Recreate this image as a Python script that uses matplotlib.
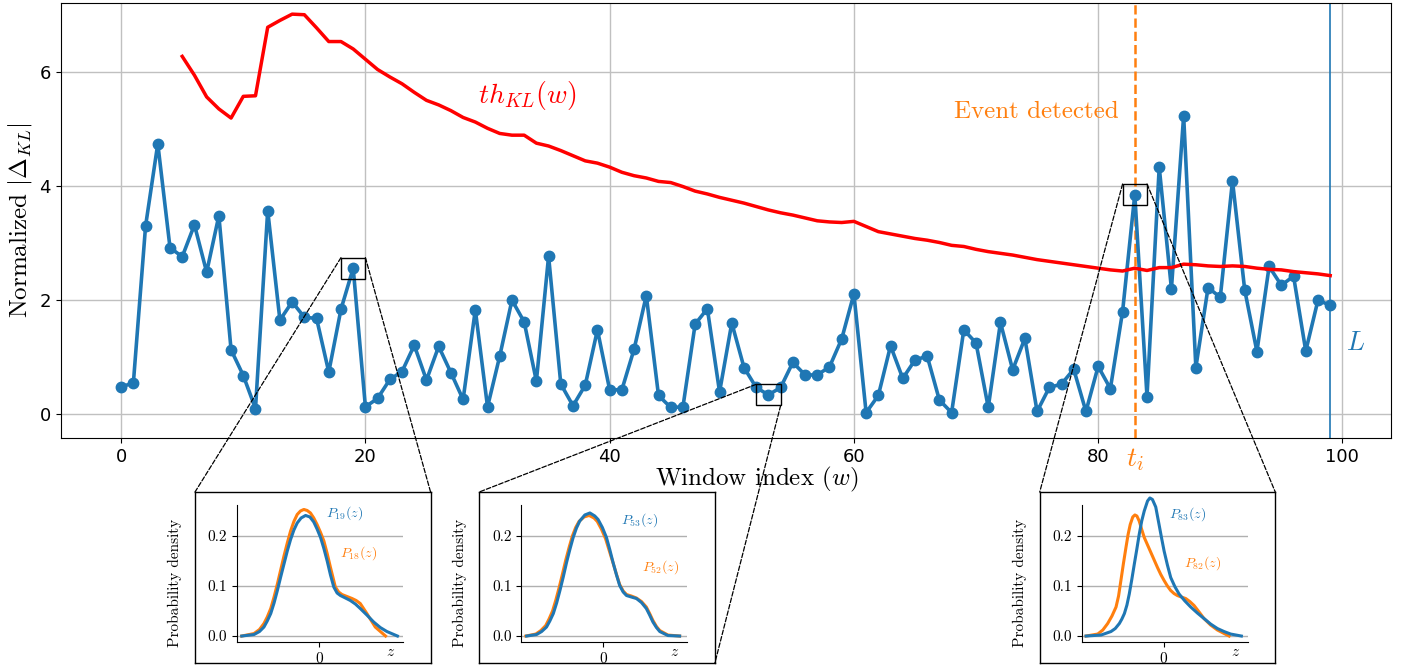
import numpy as np
import matplotlib
matplotlib.use("Agg")
import matplotlib.pyplot as plt
from matplotlib.patches import Rectangle, ConnectionPatch

plt.rcParams['mathtext.fontset'] = 'cm'
plt.rcParams['axes.unicode_minus'] = False

# ------------------------------
# DATA
# ------------------------------
windows = list(range(100))
kl_norm = [0.48, 0.55, 3.30, 4.74, 2.92, 2.76, 3.32, 2.49, 3.48, 1.13,
           0.68, 0.10, 3.57, 1.65, 1.97, 1.70, 1.68, 0.74, 1.84, 2.56,
           0.13, 0.28, 0.61, 0.75, 1.21, 0.60, 1.19, 0.73, 0.26, 1.83,
           0.13, 1.02, 2.00, 1.62, 0.58, 2.77, 0.53, 0.15, 0.51, 1.48,
           0.43, 0.43, 1.14, 2.08, 0.33, 0.12, 0.13, 1.58, 1.85, 0.39,
           1.60, 0.82, 0.47, 0.34, 0.47, 0.91, 0.69, 0.69, 0.83, 1.32,
           2.11, 0.03, 0.33, 1.20, 0.63, 0.95, 1.02, 0.25, 0.03, 1.48,
           1.25, 0.12, 1.61, 0.78, 1.33, 0.05, 0.47, 0.53, 0.79, 0.05,
           0.84, 0.45, 1.80, 3.85, 0.31, 4.33, 2.20, 5.23, 0.82, 2.22,
           2.05, 4.09, 2.18, 1.10, 2.59, 2.26, 2.42, 1.11, 2.00, 1.91]

th_windows = list(range(5, 100))
th_kl = [6.27, 5.94, 5.56, 5.35, 5.19,
         5.57, 5.58, 6.78, 6.90, 7.01, 7.00, 6.77, 6.53, 6.53, 6.40,
         6.22, 6.04, 5.91, 5.79, 5.64, 5.50, 5.42, 5.32, 5.20, 5.12,
         5.01, 4.92, 4.89, 4.89, 4.75, 4.70, 4.62, 4.53, 4.44, 4.40,
         4.33, 4.24, 4.18, 4.14, 4.08, 4.06, 3.99, 3.91, 3.86, 3.80,
         3.75, 3.70, 3.64, 3.58, 3.53, 3.49, 3.44, 3.39, 3.37, 3.36,
         3.38, 3.29, 3.20, 3.16, 3.12, 3.08, 3.05, 3.01, 2.96, 2.94,
         2.89, 2.85, 2.82, 2.79, 2.75, 2.71, 2.68, 2.65, 2.62, 2.59,
         2.56, 2.53, 2.51, 2.56, 2.52, 2.57, 2.57, 2.63, 2.62, 2.60,
         2.59, 2.60, 2.59, 2.56, 2.54, 2.53, 2.50, 2.48, 2.46, 2.43]

t_event = 83
L_end = 99
zoom_windows = [19, 53, 83]

# densities shown in the insets (z, p)
z19 = [-3.96, -3.33, -3.05, -2.82, -2.65, -2.47, -2.30, -2.13, -1.96, -1.79,
       -1.62, -1.45, -1.28, -1.11, -0.91, -0.68, -0.46, -0.26, -0.09, 0.09,
       0.26, 0.43, 0.60, 0.77, 0.94, 1.11, 1.37, 1.62, 1.88, 2.13, 2.47,
       2.82, 3.16, 3.50, 4.04]
p19 = [0.0, 0.003, 0.009, 0.018, 0.030, 0.045, 0.066, 0.091, 0.118, 0.144,
       0.170, 0.193, 0.212, 0.226, 0.236, 0.241, 0.238, 0.228, 0.214, 0.197,
       0.175, 0.150, 0.122, 0.098, 0.086, 0.081, 0.076, 0.071, 0.064, 0.055,
       0.042, 0.028, 0.017, 0.009, 0.0]
z18 = [-3.96, -3.33, -3.05, -2.82, -2.65, -2.47, -2.30, -2.13, -1.96, -1.79,
       -1.62, -1.45, -1.28, -1.11, -0.94, -0.77, -0.60, -0.43, -0.26, -0.09,
       0.09, 0.26, 0.43, 0.60, 0.85, 1.02, 1.19, 1.45, 1.71, 1.92, 2.13,
       2.47, 2.90, 3.43]
p18 = [0.0, 0.005, 0.013, 0.025, 0.038, 0.055, 0.078, 0.104, 0.132, 0.160,
       0.186, 0.210, 0.229, 0.243, 0.250, 0.253, 0.251, 0.246, 0.236, 0.223,
       0.207, 0.190, 0.165, 0.137, 0.098, 0.088, 0.083, 0.079, 0.075, 0.071,
       0.065, 0.045, 0.018, 0.0]

z53 = [-3.93, -3.42, -3.16, -2.91, -2.74, -2.56, -2.39, -2.22, -2.05, -1.88,
       -1.71, -1.54, -1.37, -1.20, -0.94, -0.68, -0.43, -0.26, -0.04, 0.17,
       0.34, 0.51, 0.68, 0.85, 1.03, 1.20, 1.45, 1.71, 1.97, 2.22, 2.39,
       2.56, 2.74, 2.91, 3.33, 3.93]
p53 = [0.0, 0.003, 0.009, 0.018, 0.030, 0.045, 0.066, 0.091, 0.118, 0.147,
       0.173, 0.197, 0.216, 0.230, 0.242, 0.246, 0.240, 0.233, 0.217, 0.197,
       0.173, 0.147, 0.123, 0.101, 0.088, 0.081, 0.078, 0.075, 0.067, 0.055,
       0.042, 0.028, 0.017, 0.009, 0.001, 0.0]
z52 = [-3.97, -3.46, -3.20, -2.95, -2.78, -2.60, -2.43, -2.26, -2.09, -1.92,
       -1.75, -1.58, -1.41, -1.24, -0.98, -0.72, -0.47, -0.30, -0.08, 0.13,
       0.32, 0.51, 0.68, 0.85, 1.03, 1.20, 1.45, 1.71, 1.97, 2.22, 2.39,
       2.56, 2.74, 2.91, 3.33, 3.93]
p52 = [0.0, 0.004, 0.011, 0.021, 0.034, 0.050, 0.072, 0.097, 0.124, 0.152,
       0.177, 0.200, 0.217, 0.229, 0.238, 0.241, 0.236, 0.229, 0.213, 0.194,
       0.170, 0.146, 0.124, 0.103, 0.090, 0.083, 0.080, 0.076, 0.069, 0.058,
       0.045, 0.031, 0.019, 0.011, 0.002, 0.0]

z83 = [-3.98, -3.21, -2.70, -2.48, -2.27, -2.14, -2.01, -1.88, -1.76, -1.63,
       -1.50, -1.37, -1.25, -1.12, -0.99, -0.82, -0.70, -0.57, -0.40, -0.23,
       -0.10, 0.03, 0.20, 0.37, 0.58, 0.80, 1.10, 1.40, 1.74, 2.08, 2.42,
       2.77, 3.11, 3.45, 4.00]
p83 = [0.0, 0.002, 0.009, 0.015, 0.025, 0.034, 0.045, 0.062, 0.084, 0.113,
       0.144, 0.174, 0.203, 0.230, 0.250, 0.270, 0.276, 0.273, 0.258, 0.223,
       0.196, 0.170, 0.142, 0.117, 0.099, 0.084, 0.070, 0.058, 0.046, 0.035,
       0.024, 0.015, 0.009, 0.004, 0.0]
z82 = [-3.98, -3.38, -3.12, -2.87, -2.65, -2.44, -2.31, -2.19, -2.06, -1.93,
       -1.82, -1.71, -1.58, -1.47, -1.37, -1.25, -1.12, -0.99, -0.82, -0.65,
       -0.48, -0.31, -0.14, 0.03, 0.20, 0.37, 0.54, 0.71, 0.92, 1.14, 1.35,
       1.57, 1.83, 2.08, 2.42, 2.77, 3.37]
p82 = [0.0, 0.004, 0.012, 0.025, 0.040, 0.058, 0.080, 0.111, 0.145, 0.177,
       0.203, 0.223, 0.238, 0.242, 0.240, 0.230, 0.213, 0.197, 0.182, 0.167,
       0.152, 0.137, 0.123, 0.111, 0.100, 0.091, 0.085, 0.081, 0.078, 0.075,
       0.069, 0.061, 0.048, 0.035, 0.022, 0.012, 0.0]

blue = '#1f77b4'
orange = '#ff7f0e'

# ------------------------------
# MAIN PLOT
# ------------------------------
fig = plt.figure(figsize=(14.02, 6.66), dpi=100)
ax = fig.add_axes([0.0433, 0.3419, 0.9486, 0.6540])

ax.plot(windows, kl_norm, '-o', color=blue, lw=2.6, ms=7.5, zorder=3)
ax.plot(th_windows, th_kl, color='red', lw=2.5, zorder=3)
ax.axvline(t_event, color=orange, ls='--', lw=1.8, zorder=2)
ax.axvline(L_end, color=blue, lw=1.2, zorder=2)

ax.set_xlim(-4.95, 103.95)
ax.set_ylim(-0.42, 7.21)
ax.set_xticks([0, 20, 40, 60, 80, 100])
ax.set_yticks([0, 2, 4, 6])
ax.tick_params(labelsize=13)
ax.grid(True, color='#c0c0c0', lw=1.0)

ax.set_xlabel('Window index ($w$)', fontfamily='cmr10', fontsize=18)
ax.xaxis.set_label_coords(0.523, -0.06)
ax.set_ylabel(r'Normalized $|\Delta_{KL}|$', fontfamily='cmr10', fontsize=18)

ax.text(29.25, 5.45, r'$th_{KL}(w)$', color='red', fontsize=20, va='baseline')
ax.text(81.7, 5.19, 'Event detected', color=orange, fontsize=18,
        fontfamily='cmr10', ha='right', va='baseline')
ax.text(100.3, 1.13, '$L$', color=blue, fontsize=19, va='baseline')
ax.text(t_event, -0.065, '$t_i$', color=orange, fontsize=20, ha='center',
        va='baseline', transform=ax.get_xaxis_transform(), clip_on=False)

# ------------------------------
# INSETS
# ------------------------------
box_lefts = [0.1391, 0.3419, 0.7416]
curves = [(z19, p19, z18, p18, 19, 18, (0.65, 0.94), (0.73, 0.65)),
          (z53, p53, z52, p52, 53, 52, (0.71, 0.89), (0.84, 0.55)),
          (z83, p83, z82, p82, 83, 82, (0.635, 0.93), (0.73, 0.58))]
# which rect corner goes to which inset-box corner
links = [[((0, 1), (0, 1)), ((1, 1), (1, 1))],
         [((0, 1), (0, 1)), ((1, 0), (1, 0))],
         [((0, 1), (0, 1)), ((1, 1), (1, 1))]]

for i, w in enumerate(zoom_windows):
    # rectangle around the zoomed point
    v = kl_norm[w]
    ax.add_patch(Rectangle((w - 1, v - 0.185), 2, 0.37, fill=False,
                           ec='black', lw=1.0, zorder=4))

    bx = fig.add_axes([box_lefts[i], 0.0045, 0.168, 0.2568])
    bx.set_xticks([])
    bx.set_yticks([])
    for s in bx.spines.values():
        s.set_linewidth(1.0)

    ia = fig.add_axes([box_lefts[i] + 0.030, 0.0356, 0.1184, 0.2062])
    zc, pc, zp, pp, wc, wp, pos_c, pos_p = curves[i]
    ia.plot(zp, pp, color=orange, lw=2.2, clip_on=False)
    ia.plot(zc, pc, color=blue, lw=2.2, clip_on=False)
    ia.set_xlim(-4.2, 4.33)
    ia.set_ylim(-0.0125, 0.262)
    ia.set_xticks([0])
    ia.set_yticks([0.0, 0.1, 0.2])
    ia.yaxis.grid(True, color='#b0b0b0', lw=1.0)
    ia.spines['top'].set_visible(False)
    ia.spines['right'].set_visible(False)
    ia.tick_params(labelsize=11, labelfontfamily='cmr10')
    ia.set_ylabel('Probability density', fontfamily='cmr10', fontsize=11)
    ia.yaxis.set_label_coords(-0.33, 0.43)
    ia.text(0.925, -0.065, '$z$', transform=ia.transAxes, fontsize=11,
            ha='center', va='center')
    ia.text(pos_c[0], pos_c[1], '$P_{%d}(z)$' % wc, color=blue, fontsize=10,
            transform=ia.transAxes, ha='center', va='center')
    ia.text(pos_p[0], pos_p[1], '$P_{%d}(z)$' % wp, color=orange, fontsize=10,
            transform=ia.transAxes, ha='center', va='center')

    # dashed connectors rect corner -> inset box corner
    for (rx, ry), (fx, fy) in links[i]:
        con = ConnectionPatch(xyA=(w - 1 + 2 * rx, v - 0.185 + 0.37 * ry),
                              coordsA=ax.transData,
                              xyB=(fx, fy), coordsB=bx.transAxes,
                              ls='--', color='black', lw=0.9, zorder=5)
        fig.add_artist(con)

plt.savefig('out.png', dpi=100)
